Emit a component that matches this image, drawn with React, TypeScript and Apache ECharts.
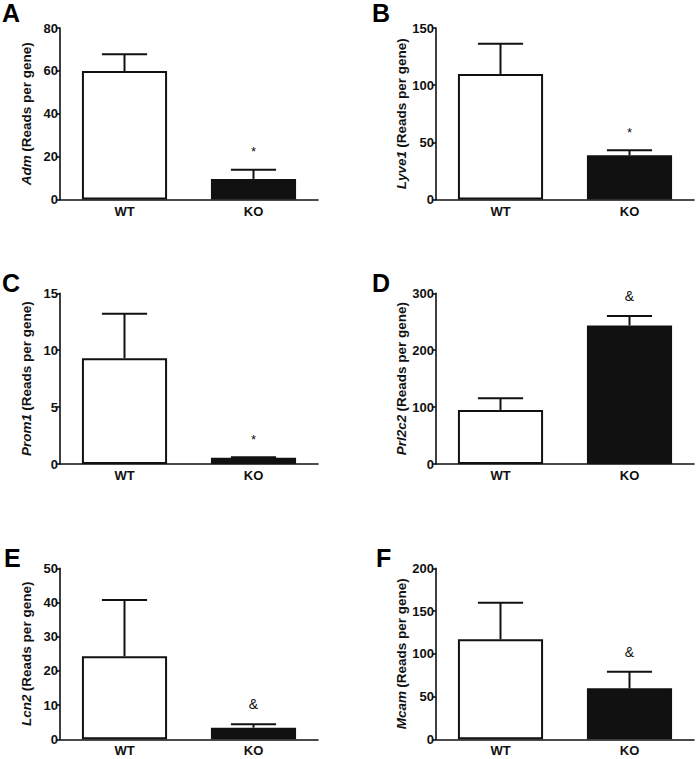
import React, { useEffect, useRef } from "react";
import * as echarts from "echarts";

const categories = ["WT", "KO"];
const panelLetters = ["A", "B", "C", "D", "E", "F"];
const genes = ["Adm", "Lyve1", "Prom1", "Prl2c2", "Lcn2", "Mcam"];
const meanA = [59.9, 9.6];
const meanB = [109.8, 38.7];
const meanC = [9.3, 0.55];
const meanD = [95, 243.5];
const meanE = [24.3, 3.4];
const meanF = [117, 59.6];
const errTopA = [67.7, 13.9];
const errTopB = [136.3, 43];
const errTopC = [13.2, 0.6];
const errTopD = [115.5, 260];
const errTopE = [40.7, 4.4];
const errTopF = [159.8, 79];
const yMaxes = [80, 150, 15, 300, 50, 200];
const yIntervals = [20, 50, 5, 100, 10, 50];
const marksA = ["", "*"];
const marksB = ["", "*"];
const marksC = ["", "*"];
const marksD = ["", "&"];
const marksE = ["", "&"];
const marksF = ["", "&"];

const means = [meanA, meanB, meanC, meanD, meanE, meanF];
const errTops = [errTopA, errTopB, errTopC, errTopD, errTopE, errTopF];
const marks = [marksA, marksB, marksC, marksD, marksE, marksF];

const FONT = "'Liberation Sans', Arial, sans-serif";

export default function App() {
  const ref = useRef<HTMLDivElement>(null);
  useEffect(() => {
    if (!ref.current) return;
    const chart = echarts.init(ref.current, null, { renderer: "svg" });
    const lefts = [60, 436];
    const tops = [28, 293.3, 568.3];
    const heights = [171.5, 170.7, 171];
    const grids: any[] = [];
    const xAxes: any[] = [];
    const yAxes: any[] = [];
    const series: any[] = [];
    const graphics: any[] = [];
    const letterPos = [
      [2, 12], [372, 12], [2, 282], [372, 282], [4, 557], [376, 557],
    ];
    for (let p = 0; p < 6; p++) {
      const col = p % 2;
      const row = Math.floor(p / 2);
      grids.push({ left: lefts[col], top: tops[row], width: 258, height: heights[row], containLabel: false });
      xAxes.push({
        type: "category",
        gridIndex: p,
        data: categories,
        axisLine: { lineStyle: { color: "#111", width: 1.6 } },
        axisTick: { alignWithLabel: true, length: 4, lineStyle: { color: "#111", width: 1.6 } },
        axisLabel: { color: "#111", fontFamily: FONT, fontWeight: "bold", fontSize: 13, margin: 5 },
      });
      yAxes.push({
        type: "value",
        gridIndex: p,
        min: 0,
        max: yMaxes[p],
        interval: yIntervals[p],
        splitLine: { show: false },
        axisLine: { show: true, lineStyle: { color: "#111", width: 1.6 } },
        axisTick: { show: true, length: 4, lineStyle: { color: "#111", width: 1.6 } },
        axisLabel: { color: "#111", fontFamily: FONT, fontWeight: "bold", fontSize: 13, margin: 2 },
        name: "{g|" + genes[p] + "} {n|(Reads per gene)}",
        nameLocation: "middle",
        nameGap: 27,
        nameRotate: 90,
        nameTextStyle: {
          rich: {
            g: { fontFamily: FONT, fontStyle: "italic", fontWeight: "bold", fontSize: 13.5, color: "#111" },
            n: { fontFamily: FONT, fontWeight: "bold", fontSize: 13.5, color: "#111" },
          },
        },
      });
      series.push({
        type: "bar",
        xAxisIndex: p,
        yAxisIndex: p,
        barWidth: "66%",
        data: means[p].map((v, i) => ({
          value: v,
          itemStyle: {
            color: i === 0 ? "#ffffff" : "#111111",
            borderColor: "#111",
            borderWidth: 2,
          },
        })),
      });
      const mk = marks[p];
      series.push({
        type: "custom",
        xAxisIndex: p,
        yAxisIndex: p,
        z: 5,
        data: means[p].map((v, i) => [i, v, errTops[p][i]]),
        renderItem: (params: any, api: any) => {
          const i = api.value(0);
          const b = api.coord([i, api.value(1)]);
          const t = api.coord([i, api.value(2)]);
          const band = api.size([1, 0])[0];
          const half = band * 0.175;
          const children: any[] = [
            { type: "line", shape: { x1: b[0], y1: b[1], x2: t[0], y2: t[1] }, style: { stroke: "#111", lineWidth: 2 } },
            { type: "line", shape: { x1: t[0] - half, y1: t[1], x2: t[0] + half, y2: t[1] }, style: { stroke: "#111", lineWidth: 2 } },
          ];
          if (mk[i]) {
            children.push({
              type: "text",
              x: t[0],
              y: t[1] - (mk[i] === "*" ? 18 : 20),
              style: {
                text: mk[i],
                fill: "#111",
                fontFamily: FONT,
                fontSize: mk[i] === "*" ? 13 : 14,
                align: "center",
                verticalAlign: "middle",
              },
            });
          }
          return { type: "group", children };
        },
      });
      graphics.push({
        type: "text",
        left: letterPos[p][0],
        top: letterPos[p][1] - 12,
        style: { text: panelLetters[p], fill: "#000", fontFamily: FONT, fontWeight: "bold", fontSize: 25 },
      });
    }
    chart.setOption({
      animation: false,
      backgroundColor: "#ffffff",
      grid: grids,
      xAxis: xAxes,
      yAxis: yAxes,
      series,
      graphic: graphics,
    });
    return () => chart.dispose();
  }, []);
  return <div ref={ref} style={{ position: "fixed", left: 0, top: 0, width: 697, height: 759 }} />;
}
